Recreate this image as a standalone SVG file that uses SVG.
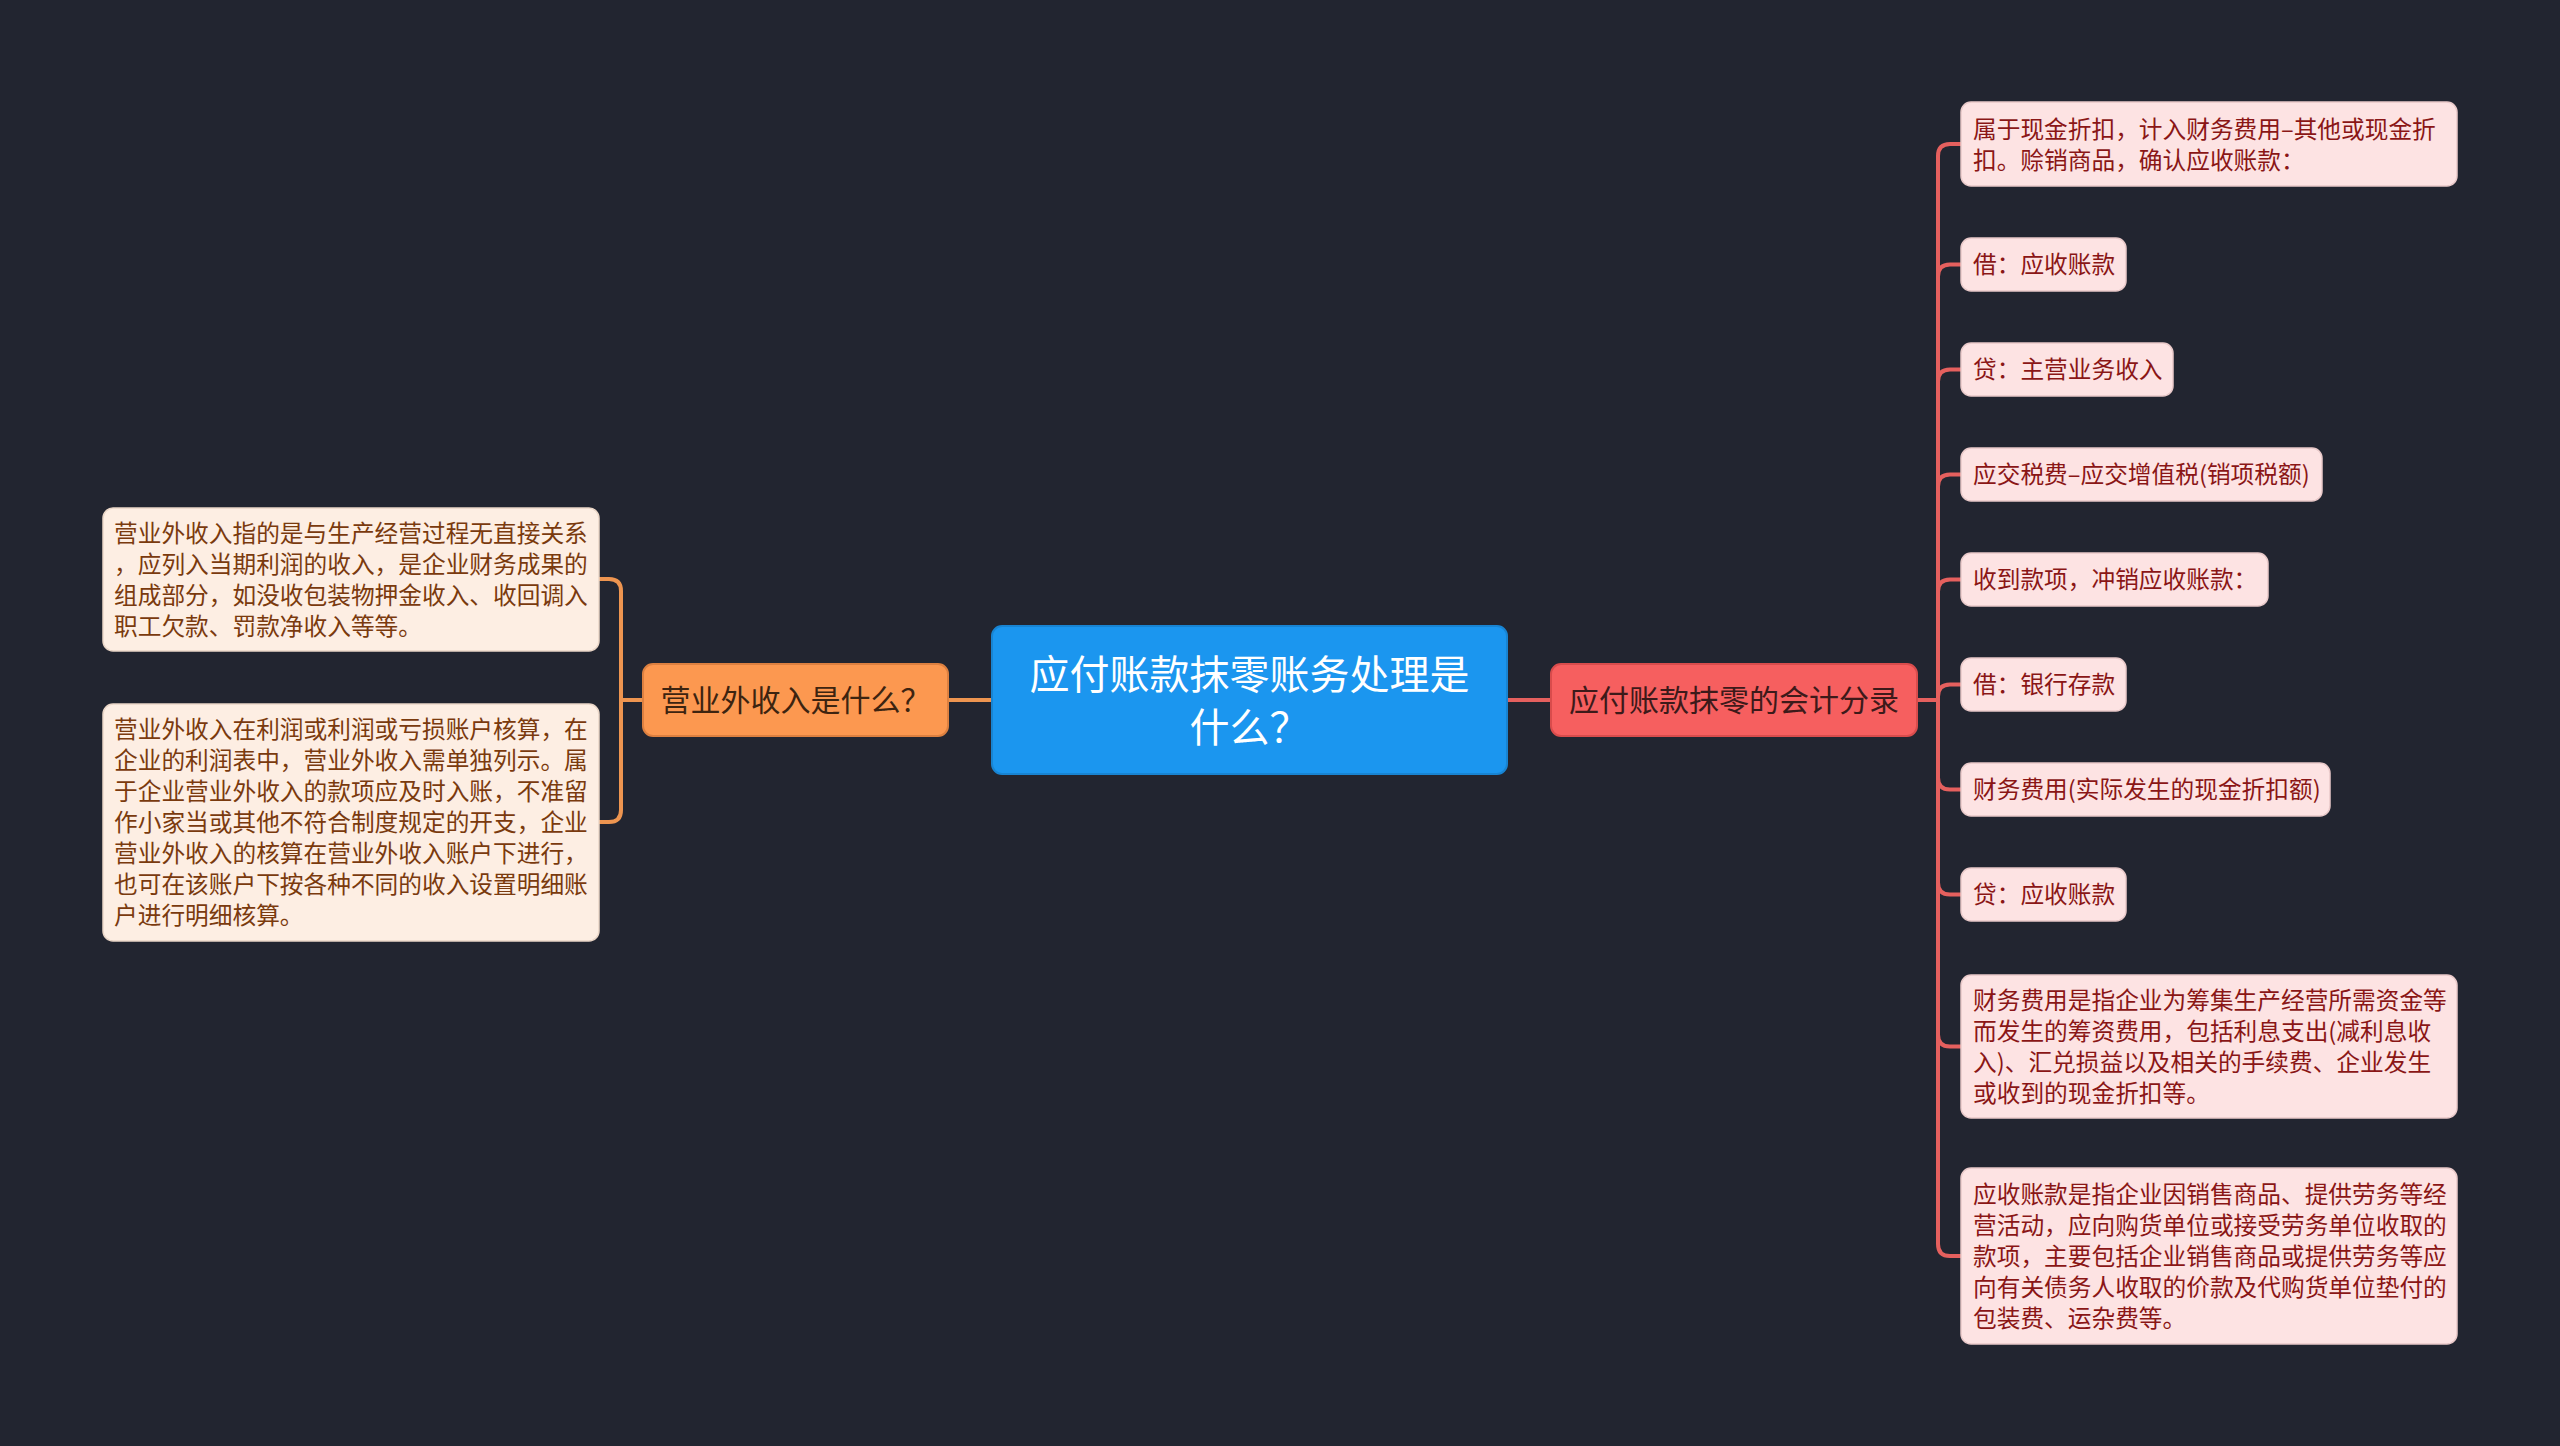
<svg xmlns="http://www.w3.org/2000/svg" width="2560" height="1446" viewBox="0 0 2560 1446">
<style>
.cjk{font-family:"Noto Sans CJK SC","Noto Sans",sans-serif}
.root rect{fill:#1b96ef;stroke:#1884d2;stroke-width:2}
.root text{fill:#ffffff;font-size:40px;text-anchor:middle}
.mr rect{fill:#f65f5f;stroke:#d94c4c;stroke-width:2}
.mr text{fill:#3d1a1a;font-size:30px;text-anchor:middle}
.ml rect{fill:#fc9850;stroke:#dd8040;stroke-width:2}
.ml text{fill:#3d2410;font-size:30px;text-anchor:middle}
.lr rect{fill:#fde3e3;stroke:#e9c9c9;stroke-width:1.5}
.lr text{fill:#8a1616;font-size:23.7px}
.ll rect{fill:#fdeee3;stroke:#ead6c7;stroke-width:1.5}
.ll text{fill:#7a3a0e;font-size:23.7px}
.cr{fill:none;stroke:#e5605e;stroke-width:4}
.cl{fill:none;stroke:#ee9550;stroke-width:4}
</style>
<rect x="0" y="0" width="2560" height="1446" fill="#222530"/>
<g id="connectors">
<path class="cl" d="M948 700 H992"/>
<path class="cr" d="M1507 700 H1551"/>
<path class="cl" d="M643 700 H621 V591 Q621 579 609 579 H599"/>
<path class="cl" d="M643 700 H621 V810 Q621 822 609 822 H599"/>
<path class="cr" d="M1917 700 H1938 V156 Q1938 144 1950 144 H1961"/>
<path class="cr" d="M1917 700 H1938 V276.5 Q1938 264.5 1950 264.5 H1961"/>
<path class="cr" d="M1917 700 H1938 V381.5 Q1938 369.5 1950 369.5 H1961"/>
<path class="cr" d="M1917 700 H1938 V486.5 Q1938 474.5 1950 474.5 H1961"/>
<path class="cr" d="M1917 700 H1938 V591.5 Q1938 579.5 1950 579.5 H1961"/>
<path class="cr" d="M1917 700 H1938 V696.5 Q1938 684.5 1950 684.5 H1961"/>
<path class="cr" d="M1917 700 H1938 V777.5 Q1938 789.5 1950 789.5 H1961"/>
<path class="cr" d="M1917 700 H1938 V882.5 Q1938 894.5 1950 894.5 H1961"/>
<path class="cr" d="M1917 700 H1938 V1034.5 Q1938 1046.5 1950 1046.5 H1961"/>
<path class="cr" d="M1917 700 H1938 V1244 Q1938 1256 1950 1256 H1961"/>
</g>
<g id="root" class="root cjk">
<rect x="992" y="626" width="515" height="148" rx="10"/>
<text x="1249.5" y="689">应付账款抹零账务处理是</text>
<text x="1249.5" y="742">什么？</text>
</g>
<g id="main-right" class="mr cjk">
<rect x="1551" y="664" width="366" height="72" rx="10"/>
<text x="1734" y="711">应付账款抹零的会计分录</text>
</g>
<g id="main-left" class="ml cjk">
<rect x="643" y="664" width="305" height="72" rx="10"/>
<text x="795.5" y="711">营业外收入是什么？</text>
</g>
<g id="left-1" class="ll cjk">
<rect x="103" y="508" width="496" height="143" rx="10"/>
<text x="114" y="542">营业外收入指的是与生产经营过程无直接关系</text>
<text x="114" y="573">，应列入当期利润的收入，是企业财务成果的</text>
<text x="114" y="604">组成部分，如没收包装物押金收入、收回调入</text>
<text x="114" y="635">职工欠款、罚款净收入等等。</text>
</g>
<g id="left-2" class="ll cjk">
<rect x="103" y="704" width="496" height="237" rx="10"/>
<text x="114" y="738">营业外收入在利润或利润或亏损账户核算，在</text>
<text x="114" y="769">企业的利润表中，营业外收入需单独列示。属</text>
<text x="114" y="800">于企业营业外收入的款项应及时入账，不准留</text>
<text x="114" y="831">作小家当或其他不符合制度规定的开支，企业</text>
<text x="114" y="862">营业外收入的核算在营业外收入账户下进行，</text>
<text x="114" y="893">也可在该账户下按各种不同的收入设置明细账</text>
<text x="114" y="924">户进行明细核算。</text>
</g>
<g id="right-1" class="lr cjk">
<rect x="1961" y="102" width="496" height="84" rx="10"/>
<text x="1973" y="138">属于现金折扣，计入财务费用–其他或现金折</text>
<text x="1973" y="169">扣。赊销商品，确认应收账款：</text>
</g>
<g id="right-2" class="lr cjk">
<rect x="1961" y="238" width="165" height="53" rx="10"/>
<text x="1973" y="273">借：应收账款</text>
</g>
<g id="right-3" class="lr cjk">
<rect x="1961" y="343" width="212" height="53" rx="10"/>
<text x="1973" y="378">贷：主营业务收入</text>
</g>
<g id="right-4" class="lr cjk">
<rect x="1961" y="448" width="361" height="53" rx="10"/>
<text x="1973" y="483">应交税费–应交增值税(销项税额)</text>
</g>
<g id="right-5" class="lr cjk">
<rect x="1961" y="553" width="307" height="53" rx="10"/>
<text x="1973" y="588">收到款项，冲销应收账款：</text>
</g>
<g id="right-6" class="lr cjk">
<rect x="1961" y="658" width="165" height="53" rx="10"/>
<text x="1973" y="693">借：银行存款</text>
</g>
<g id="right-7" class="lr cjk">
<rect x="1961" y="763" width="369" height="53" rx="10"/>
<text x="1973" y="798">财务费用(实际发生的现金折扣额)</text>
</g>
<g id="right-8" class="lr cjk">
<rect x="1961" y="868" width="165" height="53" rx="10"/>
<text x="1973" y="903">贷：应收账款</text>
</g>
<g id="right-9" class="lr cjk">
<rect x="1961" y="975" width="496" height="143" rx="10"/>
<text x="1973" y="1009">财务费用是指企业为筹集生产经营所需资金等</text>
<text x="1973" y="1040">而发生的筹资费用，包括利息支出(减利息收</text>
<text x="1973" y="1071">入)、汇兑损益以及相关的手续费、企业发生</text>
<text x="1973" y="1102">或收到的现金折扣等。</text>
</g>
<g id="right-10" class="lr cjk">
<rect x="1961" y="1168" width="496" height="176" rx="10"/>
<text x="1973" y="1203">应收账款是指企业因销售商品、提供劳务等经</text>
<text x="1973" y="1234">营活动，应向购货单位或接受劳务单位收取的</text>
<text x="1973" y="1265">款项，主要包括企业销售商品或提供劳务等应</text>
<text x="1973" y="1296">向有关债务人收取的价款及代购货单位垫付的</text>
<text x="1973" y="1327">包装费、运杂费等。</text>
</g>
</svg>
